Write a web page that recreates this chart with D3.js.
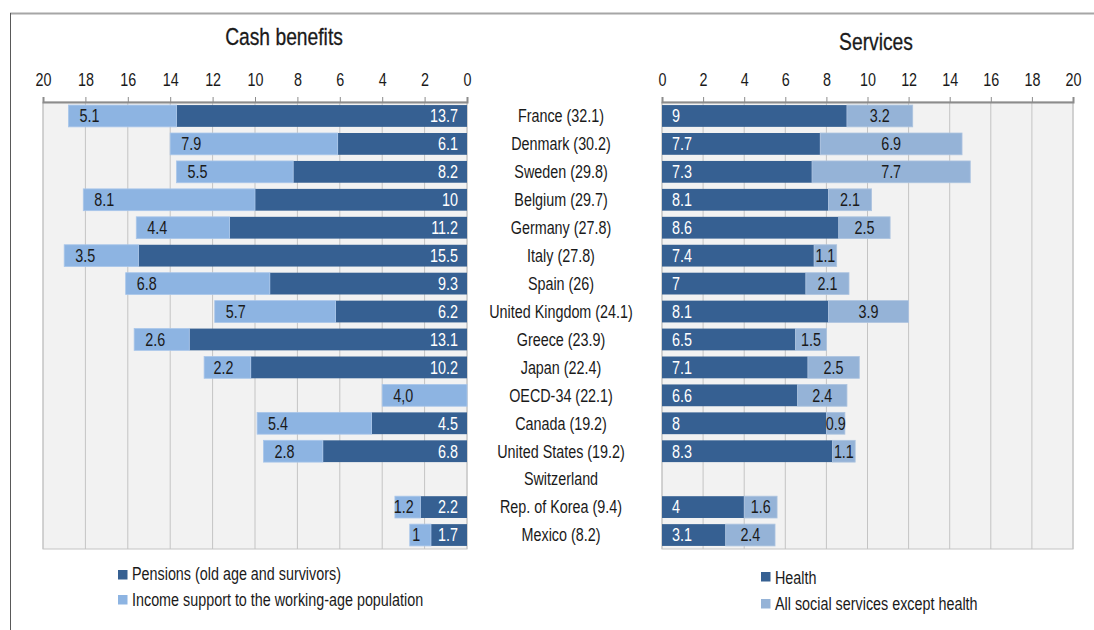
<!DOCTYPE html>
<html>
<head>
<meta charset="utf-8">
<script src="https://cdn.jsdelivr.net/npm/d3@7"></script>
<style>
  body { margin: 0; background: #fff; }
  svg text { font-family: "Liberation Sans", Arial, sans-serif; fill: #1a1a1a; }
</style>
</head>
<body>
<svg id="chart" width="1094" height="630"></svg>
<script>
// data
var countries = ["France (32.1)", "Denmark (30.2)", "Sweden (29.8)", "Belgium (29.7)", "Germany (27.8)",
    "Italy (27.8)", "Spain (26)", "United Kingdom (24.1)", "Greece (23.9)", "Japan (22.4)",
    "OECD-34 (22.1)", "Canada (19.2)", "United States (19.2)", "Switzerland", "Rep. of Korea (9.4)", "Mexico (8.2)"];
var pensions = [13.7, 6.1, 8.2, 10, 11.2, 15.5, 9.3, 6.2, 13.1, 10.2, null, 4.5, 6.8, null, 2.2, 1.7];
var incomeSupport = [5.1, 7.9, 5.5, 8.1, 4.4, 3.5, 6.8, 5.7, 2.6, 2.2, 4.0, 5.4, 2.8, null, 1.2, 1];
var health = [9, 7.7, 7.3, 8.1, 8.6, 7.4, 7, 8.1, 6.5, 7.1, 6.6, 8, 8.3, null, 4, 3.1];
var otherServices = [3.2, 6.9, 7.7, 2.1, 2.5, 1.1, 2.1, 3.9, 1.5, 2.5, 2.4, 0.9, 1.1, null, 1.6, 2.4];
var xTicks = [0, 2, 4, 6, 8, 10, 12, 14, 16, 18, 20];
// OECD average is printed with a comma in the source
var labelOverrides = { "OECD-34 (22.1)": "4,0" };

var darkBlue = "#366092", lightLeft = "#8db4e2", lightRight = "#95b3d7";
var FS = 17.5;      // font size
var SX = 0.82;      // horizontal squeeze, narrow font look

const svg = d3.select("#chart");
const tr = (x, y) => `translate(${x},${y}) scale(${SX},1)`;

// outer frame
svg.append("line").attr("x1", 10).attr("x2", 1094).attr("y1", 13.5).attr("y2", 13.5)
    .attr("stroke", "#a6a6a6").attr("stroke-width", 2);
svg.append("line").attr("x1", 10.5).attr("x2", 10.5).attr("y1", 13).attr("y2", 630)
    .attr("stroke", "#595959").attr("stroke-width", 1);

const y = d3.scaleBand().domain(countries).range([102, 549]).paddingInner(0.22).paddingOuter(0.11);

const xL = d3.scaleLinear().domain([0, 20]).range([467, 43]);
const xR = d3.scaleLinear().domain([0, 20]).range([662, 1073]);

function panel(x, title, titleX, titleY) {
    const g = svg.append("g");
    const [x0, x1] = d3.extent(x.range());
    g.append("rect").attr("x", x0).attr("y", 102).attr("width", x1 - x0).attr("height", 447)
        .attr("fill", "#f2f2f2").attr("stroke", "#c4c4c4");
    g.selectAll("line.grid").data(xTicks).join("line")
        .attr("class", "grid")
        .attr("x1", d => x(d)).attr("x2", d => x(d))
        .attr("y1", 102).attr("y2", 549)
        .attr("stroke", "#c4c4c4");
    const axis = d3.axisTop(x).tickValues(xTicks).tickSize(5).tickPadding(11.5).tickFormat(d3.format("d"));
    const ax = g.append("g").attr("transform", "translate(0,102)").call(axis);
    ax.select(".domain").attr("stroke", "#8c8c8c").attr("stroke-width", 2);
    ax.selectAll(".tick line").attr("stroke", "#8c8c8c");
    ax.selectAll(".tick text").attr("font-size", FS).attr("fill", "#1a1a1a")
        .attr("transform", `scale(${SX},1)`)
        .style("font-family", "'Liberation Sans', Arial, sans-serif");
    g.append("text").attr("transform", tr(titleX, titleY)).attr("text-anchor", "middle")
        .attr("font-size", 23.5).attr("stroke", "#1a1a1a").attr("stroke-width", 0.3).text(title);
    return g;
}

const gL = panel(xL, "Cash benefits", 284, 45);
const gR = panel(xR, "Services", 876, 50);

var rows = countries.map((c, i) => ({
    c: c, pen: pensions[i], inc: incomeSupport[i], hea: health[i], oth: otherServices[i]
}));
var h = y.bandwidth();
var midY = d => y(d.c) + h / 2 + FS * 0.36;

// left: pensions from 0, income support stacked beyond
gL.selectAll("rect.pen").data(rows.filter(d => d.pen != null)).join("rect")
    .attr("x", d => xL(d.pen)).attr("width", d => xL(0) - xL(d.pen))
    .attr("y", d => y(d.c)).attr("height", h).attr("fill", darkBlue);
gL.selectAll("rect.inc").data(rows.filter(d => d.inc != null)).join("rect")
    .attr("x", d => xL((d.pen || 0) + d.inc)).attr("width", d => xL(d.pen || 0) - xL((d.pen || 0) + d.inc))
    .attr("y", d => y(d.c)).attr("height", h).attr("fill", lightLeft)
    .attr("stroke", "#a9c6ea").attr("stroke-width", 0.8);
gL.selectAll("text.pen").data(rows.filter(d => d.pen != null)).join("text")
    .attr("transform", d => tr(xL(0) - 9, midY(d)))
    .attr("text-anchor", "end").attr("font-size", FS).style("fill", "#fff")
    .text(d => String(d.pen));
gL.selectAll("text.inc").data(rows.filter(d => d.inc != null)).join("text")
    .attr("font-size", FS)
    .text(d => labelOverrides[d.c] || String(d.inc))
    .attr("transform", function (d) {
        // short bars: pull the label back so it stays roughly centred
        var start = xL((d.pen || 0) + d.inc), w = xL(d.pen || 0) - start;
        var lw = this.getComputedTextLength() * SX;
        var pad = Math.min(11, w / 2 - lw / 2 - 4);
        return tr(start + pad, midY(d));
    });

// right: health from 0, other services stacked
gR.selectAll("rect.hea").data(rows.filter(d => d.hea != null)).join("rect")
    .attr("x", xR(0)).attr("width", d => xR(d.hea) - xR(0))
    .attr("y", d => y(d.c)).attr("height", h).attr("fill", darkBlue);
gR.selectAll("rect.oth").data(rows.filter(d => d.oth != null)).join("rect")
    .attr("x", d => xR(d.hea)).attr("width", d => xR(d.hea + d.oth) - xR(d.hea))
    .attr("y", d => y(d.c)).attr("height", h).attr("fill", lightRight)
    .attr("stroke", "#adc4e0").attr("stroke-width", 0.8);
gR.selectAll("text.hea").data(rows.filter(d => d.hea != null)).join("text")
    .attr("transform", d => tr(xR(0) + 10, midY(d)))
    .attr("font-size", FS).style("fill", "#fff")
    .text(d => String(d.hea));
gR.selectAll("text.oth").data(rows.filter(d => d.oth != null)).join("text")
    .attr("transform", d => tr(xR(d.hea + d.oth / 2), midY(d)))
    .attr("text-anchor", "middle").attr("font-size", FS)
    .text(d => String(d.oth));

// category labels in the middle
svg.append("g").selectAll("text").data(countries).join("text")
    .attr("transform", d => tr(561, y(d) + h / 2 + FS * 0.36))
    .attr("text-anchor", "middle").attr("font-size", FS)
    .text(d => d);

// legends
function legend(x, rowsY, items) {
    const g = svg.append("g");
    items.forEach((it, i) => {
        g.append("rect").attr("x", x).attr("y", rowsY[i][0]).attr("width", 9.5).attr("height", 9.5).attr("fill", it[1]);
        g.append("text").attr("transform", tr(x + 14, rowsY[i][1]))
            .attr("font-size", FS).text(it[0]);
    });
}
legend(118, [[570, 580], [595, 606]], [["Pensions (old age and survivors)", darkBlue], ["Income support to  the working-age population", lightLeft]]);
legend(761, [[572, 584], [599, 610]], [["Health", darkBlue], ["All social services except health", lightRight]]);
</script>
</body>
</html>
